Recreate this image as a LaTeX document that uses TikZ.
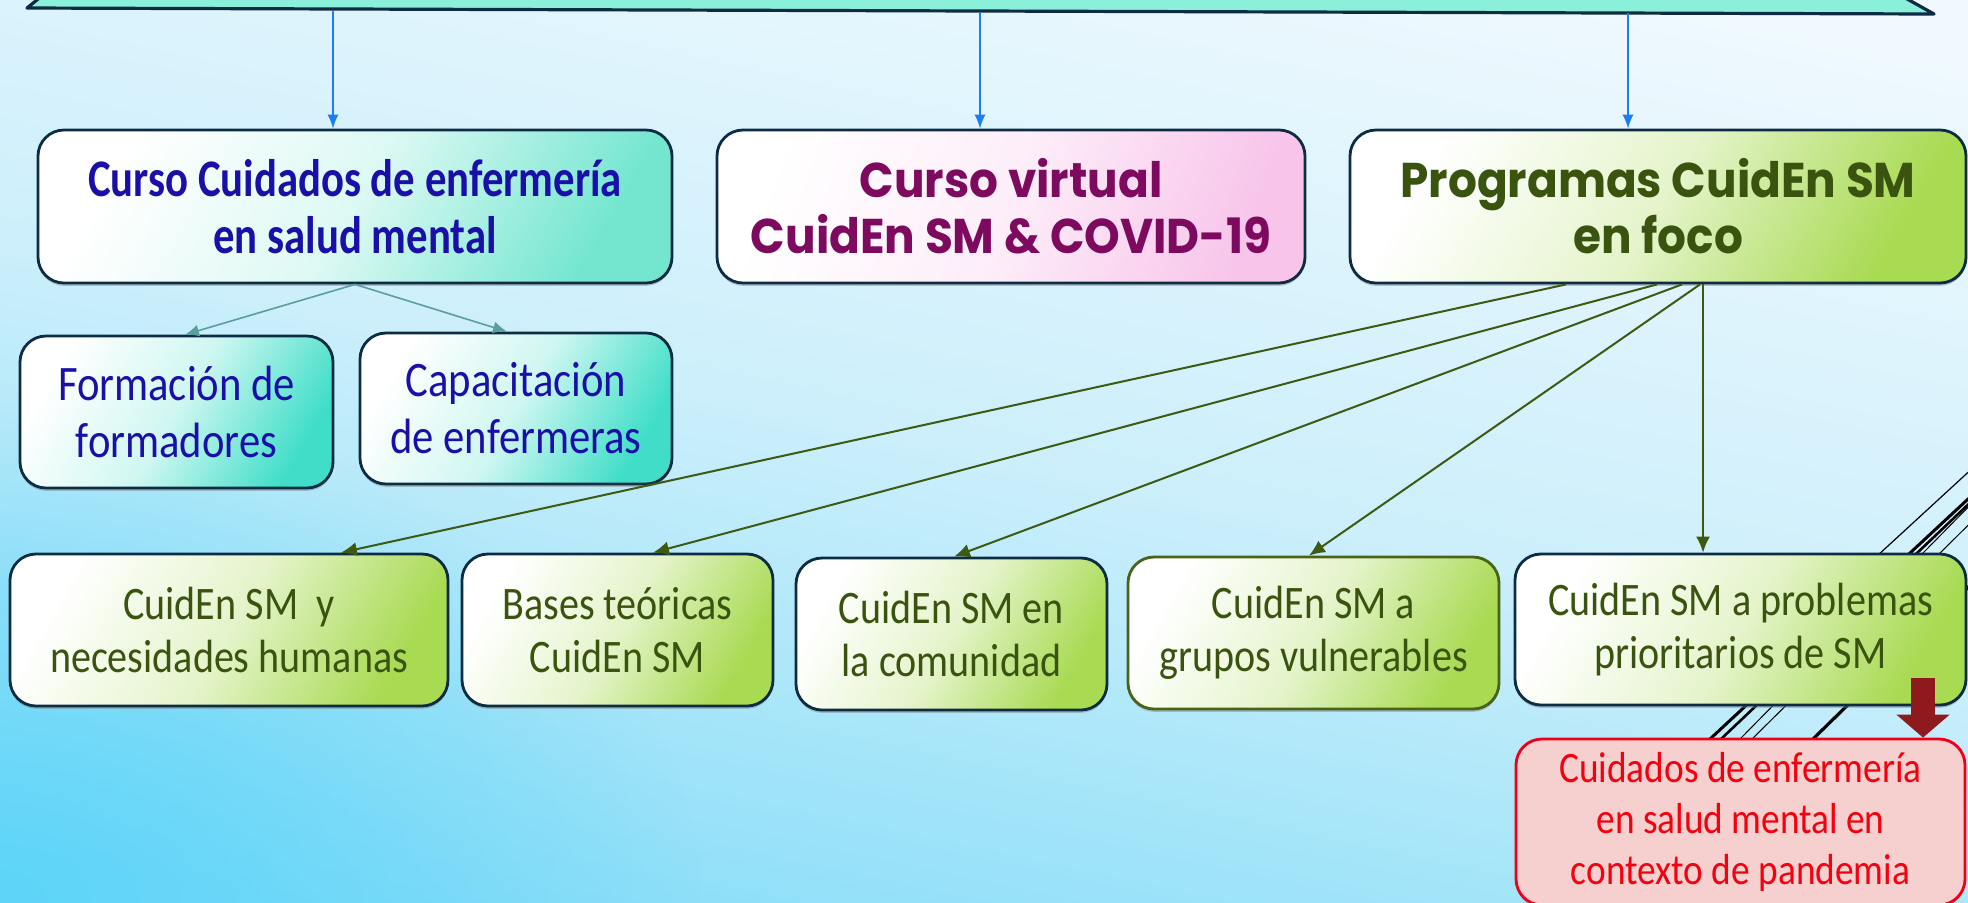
\documentclass[tikz,border=0pt]{standalone}
\usepackage{fontspec}
\setmainfont{Carlito}[FakeStretch=0.86]
\newfontfamily\narrowbold{Carlito}[FakeStretch=0.81]
\newfontfamily\roundbold{Poppins}[FakeStretch=0.93]
\usetikzlibrary{arrows.meta,calc,shadows,fadings}
\definecolor{bgtop}{HTML}{F0F9FE}
\definecolor{bgmid}{HTML}{CCEFFB}
\definecolor{bgbot}{HTML}{84DCF8}
\definecolor{bgdeep}{HTML}{50D2F8}
\definecolor{bannerfill}{HTML}{8AF0DA}
\definecolor{boxline}{HTML}{0D2C44}
\definecolor{oliveline}{HTML}{4A6318}
\definecolor{blueline}{HTML}{1E7DF0}
\definecolor{tealline}{HTML}{5A9E9E}
\definecolor{greenline}{HTML}{3E5A12}
\definecolor{bluetxt}{HTML}{1A10A8}
\definecolor{plumtxt}{HTML}{7D0A5F}
\definecolor{olivetxt}{HTML}{3A5410}
\definecolor{aquaend}{HTML}{74E6D0}
\definecolor{aquadeep}{HTML}{40DEC8}
\definecolor{pinkend}{HTML}{F8C4EA}
\definecolor{greenend}{HTML}{A8DA52}
\definecolor{redfill}{HTML}{F6CFCF}
\definecolor{redline}{HTML}{F00018}
\definecolor{redtxt}{HTML}{F5000F}
\definecolor{darkred}{HTML}{8E1A1E}
\tikzfading[name=cornerglow, inner color=transparent!25, outer color=transparent!100]

\begin{document}
\begin{tikzpicture}[x=0.5pt,y=-0.5pt,
  box/.style={rounded corners=13pt, draw=boxline, line width=1.4pt, align=center, inner sep=0pt,
    drop shadow={shadow xshift=0pt, shadow yshift=-1.4pt, opacity=0.45}},
  aquabox/.style={box, top color=white, bottom color=#1, middle color=white!75!#1, shading angle=60},
  pinkbox/.style={box, top color=white, bottom color=pinkend, middle color=white!70!pinkend, shading angle=70},
  greenbox/.style={box, top color=white, bottom color=greenend, middle color=white!70!greenend, shading angle=60},
  bluearrow/.style={draw=blueline, line width=0.8pt, -{Latex[length=7pt,width=5.5pt]}},
  tealarrow/.style={draw=tealline, line width=0.8pt, -{Latex[length=7pt,width=6pt]}},
  greenarrow/.style={draw=greenline, line width=1pt, -{Latex[length=8pt,width=7pt]}},
  bigarrow/.style={draw=darkred, line width=12pt, -{Triangle[length=11.5pt,width=26pt]}},
  toptext/.style={font=\roundbold\bfseries\fontsize{24.4}{28}\selectfont},
  midtext/.style={font=\fontsize{24.8}{28.5}\selectfont, text=bluetxt},
  lowtext/.style={font=\fontsize{23.3}{26.5}\selectfont, text=olivetxt}]
\useasboundingbox (0,0) rectangle (1968,902);
\clip (0,0) rectangle (1968,902);
% background
\shade[top color=bgtop, bottom color=bgbot, middle color=bgmid, shading angle=-12] (-50,-50) rectangle (2018,952);
\fill[bgdeep, path fading=cornerglow] (-700,402) rectangle (700,1402);
\foreach \a/\b/\w in {1710/1910/1.5pt,1721/1917/1.3pt,1740/1923/0.5pt,1752/1940/0.5pt,1813/2003/1.6pt}
  \draw[line width=\w] ($(\a,739)!-1!(\b,553)$) -- ($(\a,739)!2.5!(\b,553)$);
\draw[line width=0.6pt] (1815,613) -- (2100,351);
% banner
\fill[bannerfill] (43,-5) -- (27,8) -- (1934,14) -- (1900,-5) -- cycle;
\draw[boxline, line width=1.6pt, line join=round] (43,-5) -- (27,8) -- (1934,14) -- (1900,-5);
\coordinate (b1) at (333,11);
\coordinate (b2) at (980,12);
\coordinate (b3) at (1628,13);

% first row
\node[aquabox=aquaend, minimum width=317pt, minimum height=76.5pt, text=bluetxt,
  font=\narrowbold\bfseries\fontsize{26.4}{28.5}\selectfont] (curso) at (355,206.5)
  {Curso Cuidados de enfermería\\en salud mental};
\node[pinkbox, toptext, text=plumtxt, minimum width=294pt, minimum height=76.5pt] (virtual) at (1011,206.5)
  {Curso virtual\\CuidEn SM \& COVID-19};
\node[greenbox, toptext, text=olivetxt, minimum width=308pt, minimum height=76.5pt] (foco) at (1658,206.5)
  {Programas CuidEn SM\\en foco};

% second row
\node[aquabox=aquadeep, midtext, minimum width=156.5pt, minimum height=76pt] (formacion) at (176.5,412)
  {Formación de\\formadores};
\node[aquabox=aquadeep, midtext, minimum width=156pt, minimum height=75.5pt] (capacitacion) at (516,408.5)
  {Capacitación\\de enfermeras};

% third row
\node[greenbox, lowtext, minimum width=219pt, minimum height=76pt] (necesidades) at (229,630)
  {CuidEn SM\ \ y\\necesidades humanas};
\node[greenbox, lowtext, minimum width=155.5pt, minimum height=76pt] (bases) at (617.5,630)
  {Bases teóricas\\CuidEn SM};
\node[greenbox, lowtext, minimum width=155.5pt, minimum height=76pt] (comunidad) at (951.5,634)
  {CuidEn SM en\\la comunidad};
\node[greenbox, lowtext, draw=oliveline, minimum width=185.5pt, minimum height=76pt] (grupos) at (1313.5,633)
  {CuidEn SM a\\grupos vulnerables};
\node[greenbox, lowtext, minimum width=225.5pt, minimum height=75.5pt] (problemas) at (1740.5,629.5)
  {CuidEn SM a problemas\\prioritarios de SM};
\node[box, fill=redfill, draw=redline, text=redtxt, font=\fontsize{21.7}{25.5}\selectfont,
  drop shadow={opacity=0}, minimum width=224.5pt, minimum height=83pt] (pandemia) at (1740.5,822)
  {Cuidados de enfermería\\en salud mental en\\contexto de pandemia};

% connectors
\draw[bluearrow] (b1) -- (b1 |- curso.north);
\draw[bluearrow] (b2) -- (b2 |- virtual.north);
\draw[bluearrow] (b3) -- (b3 |- foco.north);
\draw[tealarrow] (curso.south) -- ($(formacion.north)+(8.5,0)$);
\draw[tealarrow] (curso.south) -- ($(capacitacion.north)+(-9,0)$);
\draw[greenarrow] ($(foco.south)+(-92,0)$) -- ($(necesidades.north)+(112,0)$);
\draw[greenarrow] ($(foco.south)+(-1,0)$) -- ($(bases.north)+(35.5,0)$);
\draw[greenarrow] ($(foco.south)+(24,0)$) -- ($(comunidad.north)+(2.5,0)$);
\draw[greenarrow] ($(foco.south)+(42,0)$) -- ($(grupos.north)+(-4.5,0)$);
\draw[greenarrow] ($(foco.south)+(45,0)$) -- ($(problemas.north)+(-37.5,0)$);
\coordinate (hot) at (1923,678);
\draw[bigarrow] (hot) -- (hot |- pandemia.north);
\end{tikzpicture}
\end{document}
